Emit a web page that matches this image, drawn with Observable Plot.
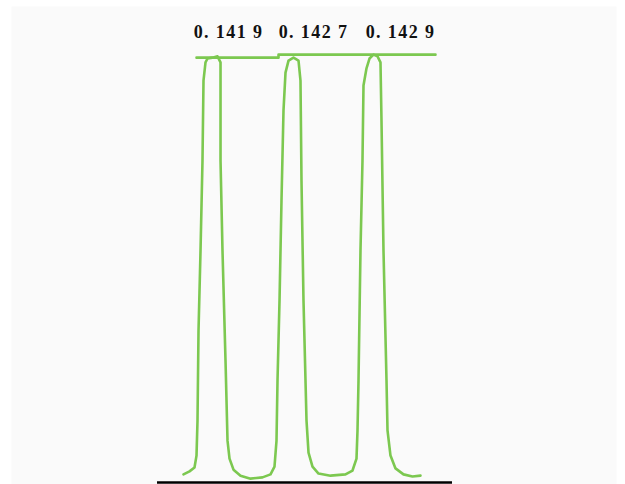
<!DOCTYPE html>
<html>
<head>
<meta charset="utf-8">
<script src="https://cdn.jsdelivr.net/npm/d3@7"></script>
<script src="https://cdn.jsdelivr.net/npm/@observablehq/plot@0.6"></script>
<style>
  html, body { margin: 0; padding: 0; background: #ffffff; }
  #chart svg text { letter-spacing: 1.4px; }
</style>
</head>
<body>
<div id="chart"></div>
<script>
// Chromatogram trace (time units, relative signal)
const traceT = [8.81, 10.85, 12.54, 13.22, 13.56, 13.90, 14.58, 15.25, 15.59, 16.27, 16.95, 18.64, 20.34, 21.36, 21.36, 22.03, 23.05, 23.73, 24.41, 25.76, 28.14, 31.53, 35.59, 38.31, 39.66, 40.34, 40.68, 41.36, 42.03, 42.71, 43.39, 44.41, 46.10, 47.80, 48.47, 48.81, 49.49, 50.51, 51.19, 52.54, 54.58, 58.64, 63.73, 66.10, 67.46, 67.80, 68.14, 68.81, 69.49, 69.83, 70.85, 71.86, 73.22, 74.58, 75.59, 75.93, 76.61, 77.63, 77.97, 78.98, 80.68, 83.39, 86.44, 89.15];
const traceV = [0.019, 0.026, 0.035, 0.063, 0.145, 0.356, 0.543, 0.754, 0.941, 0.984, 0.993, 0.995, 0.998, 0.984, 0.754, 0.543, 0.286, 0.098, 0.056, 0.030, 0.016, 0.009, 0.012, 0.019, 0.037, 0.098, 0.239, 0.426, 0.660, 0.871, 0.960, 0.988, 0.995, 0.988, 0.941, 0.707, 0.426, 0.145, 0.070, 0.037, 0.021, 0.016, 0.019, 0.028, 0.056, 0.122, 0.239, 0.543, 0.754, 0.930, 0.970, 0.993, 1.002, 0.998, 0.984, 0.848, 0.543, 0.239, 0.122, 0.063, 0.033, 0.019, 0.014, 0.016];

// Flat top reference line (two segments)
const topT = [13.22, 40.00, 41.02, 94.24];
const topV = [0.995, 0.995, 1.002, 1.002];

// Peak labels
const labelText = ["0. 141 9", "0. 142 7", "0. 142 9"];
const labelT = [24.07, 52.88, 82.37];
const labelV = 1.040;

// Baseline extent
const baseT = [0, 100];

const trace = traceT.map((t, i) => ({t, v: traceV[i]}));
const topLine = topT.map((t, i) => ({t, v: topV[i]}));
const labels = labelText.map((s, i) => ({s, t: labelT[i], v: labelV}));

const plot = Plot.plot({
  width: 625,
  height: 484,
  marginLeft: 11,
  marginRight: 9,
  marginTop: 6,
  marginBottom: 0,
  x: {domain: [-49.5, 155.6], axis: null},
  y: {domain: [-0.0047, 1.1148], axis: null},
  marks: [
    Plot.frame({fill: "#fafafa", stroke: null}),
    Plot.line(trace, {x: "t", y: "v", stroke: "#7cc850", strokeWidth: 2.6, curve: "linear"}),
    Plot.line(topLine, {x: "t", y: "v", stroke: "#7cc850", strokeWidth: 2.6, curve: "step-after"}),
    Plot.ruleY([0], {x1: baseT[0], x2: baseT[1], stroke: "#000000", strokeWidth: 2.5}),
    Plot.text(labels, {x: "t", y: "v", text: "s", textAnchor: "middle", lineAnchor: "bottom",
      fontFamily: "Liberation Serif", fontWeight: "bold", fontSize: 18, fill: "#111111"})
  ]
});
document.getElementById("chart").appendChild(plot);
</script>
</body>
</html>
